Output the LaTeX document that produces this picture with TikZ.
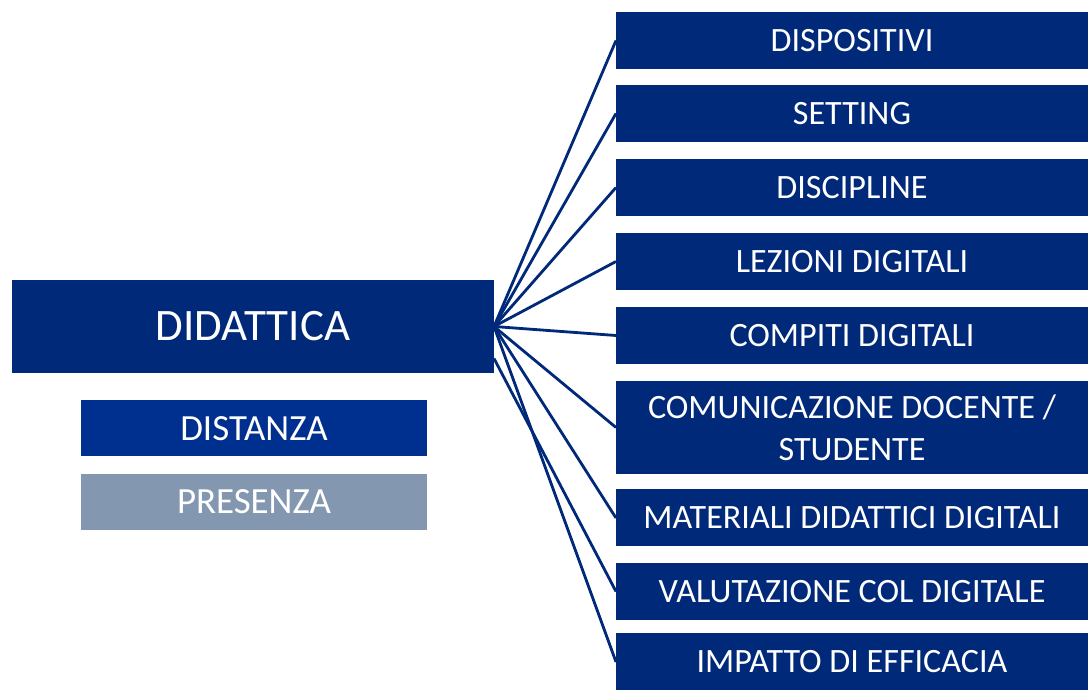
\documentclass[tikz,border=0pt]{standalone}
\usepackage{fontspec}
\setmainfont{Carlito}
\usetikzlibrary{positioning}
\definecolor{navy}{RGB}{0,41,122}
\definecolor{midblue}{RGB}{0,48,143}
\definecolor{slate}{RGB}{132,151,176}

\begin{document}
\begin{tikzpicture}[
  item/.style={fill=navy, text=white, align=center, font=\fontsize{9.7}{12}\selectfont,
               inner sep=0pt, outer sep=0pt, minimum width=4.72cm, minimum height=5.7mm},
  mainbox/.style={item, minimum width=4.82cm, minimum height=9.3mm,
                  font=\fontsize{12.8}{15}\selectfont},
  mode/.style={item, minimum width=3.46cm, minimum height=5.6mm,
               font=\fontsize{10.5}{12}\selectfont},
  ln/.style={draw=navy, line width=0.8pt}
]
  \useasboundingbox (0,0) rectangle (10.88,6.9);

  \node[mainbox] (did) at (2.53, 3.635) {DIDATTICA};
  \node[mode, fill=midblue] (dist) at (2.54, 2.615) {DISTANZA};
  \node[mode, fill=slate]   (pres) at (2.54, 1.88) {PRESENZA};

  \node[item] (dispo) at (8.52, 6.495) {DISPOSITIVI};
  \node[item] (sett)  at (8.52, 5.765) {SETTING};
  \node[item] (disc)  at (8.52, 5.025) {DISCIPLINE};
  \node[item] (lez)   at (8.52, 4.285) {LEZIONI DIGITALI};
  \node[item] (comp)  at (8.52, 3.545) {COMPITI DIGITALI};
  \node[item, minimum height=9.3mm] (comu) at (8.52, 2.625)
       {COMUNICAZIONE DOCENTE /\\ STUDENTE};
  \node[item] (mat)   at (8.52, 1.72) {MATERIALI DIDATTICI DIGITALI};
  \node[item] (val)   at (8.52, 0.985) {VALUTAZIONE COL DIGITALE};
  \node[item] (imp)   at (8.52, 0.28) {IMPATTO DI EFFICACIA};

  \coordinate (low) at ([yshift=-3.2mm]did.east);

  \foreach \t in {dispo, sett, disc, lez, comp, comu, mat, imp}
    \draw[ln] (did.east) -- (\t.west);
  \draw[ln] (low) -- (val.west);

\end{tikzpicture}
\end{document}
